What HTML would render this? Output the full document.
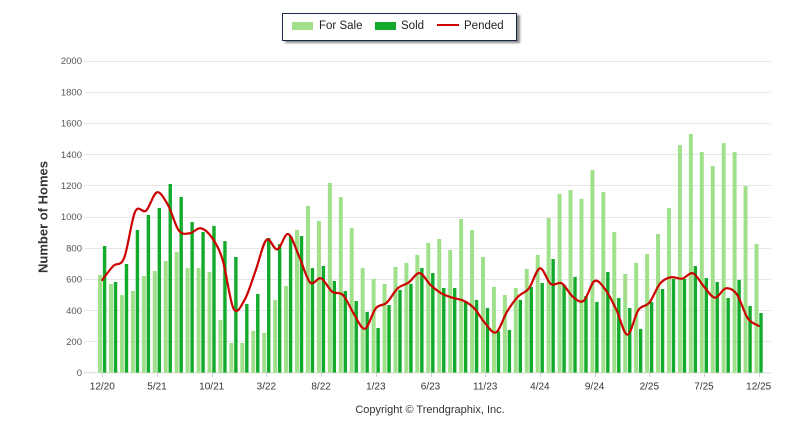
<!DOCTYPE html>
<html>
<head>
<meta charset="utf-8">
<style>
  html,body{margin:0;padding:0;background:#fff;}
  body{width:800px;height:434px;position:relative;overflow:hidden;font-family:"Liberation Sans",Arial,sans-serif;}
  #legend{position:absolute;left:282px;top:13px;width:233px;height:26px;border:1px solid #1b2a4a;background:#fff;box-shadow:3px 2px 2px #8a8a8a;}
  .sw{position:absolute;top:21.5px;height:8px;width:21px;}
  .lt{position:absolute;top:18.5px;font-size:11.5px;color:#222;line-height:14px;white-space:nowrap;}
  svg{position:absolute;left:0;top:0;}
</style>
</head>
<body>
<svg id="chart" width="800" height="434" viewBox="0 0 800 434" xmlns="http://www.w3.org/2000/svg">
  <g id="grid"></g>
  <g id="bars"></g>
  <path id="pend" fill="none" stroke="#cc0000" stroke-width="2.2" stroke-linejoin="round" stroke-linecap="round" d=""/>
  <g font-family="Liberation Sans, Arial, sans-serif" font-size="9.5" fill="#555" text-anchor="end">
    <text x="82" y="376">0</text>
    <text x="82" y="345">200</text>
    <text x="82" y="313.8">400</text>
    <text x="82" y="282.6">600</text>
    <text x="82" y="251.4">800</text>
    <text x="82" y="220.2">1000</text>
    <text x="82" y="189">1200</text>
    <text x="82" y="157.8">1400</text>
    <text x="82" y="126.6">1600</text>
    <text x="82" y="95.4">1800</text>
    <text x="82" y="64.2">2000</text>
  </g>
  <g font-family="Liberation Sans, Arial, sans-serif" font-size="10" fill="#333" text-anchor="middle">
    <text x="102.3" y="389.5">12/20</text>
    <text x="157" y="389.5">5/21</text>
    <text x="211.7" y="389.5">10/21</text>
    <text x="266.4" y="389.5">3/22</text>
    <text x="321.1" y="389.5">8/22</text>
    <text x="375.8" y="389.5">1/23</text>
    <text x="430.5" y="389.5">6/23</text>
    <text x="485.2" y="389.5">11/23</text>
    <text x="539.9" y="389.5">4/24</text>
    <text x="594.6" y="389.5">9/24</text>
    <text x="649.3" y="389.5">2/25</text>
    <text x="704" y="389.5">7/25</text>
    <text x="758.7" y="389.5">12/25</text>
  </g>
  <text x="44" y="217" transform="rotate(-90 44 217)" font-family="Liberation Sans, Arial, sans-serif" font-size="13" font-weight="bold" fill="#333" text-anchor="middle" dominant-baseline="middle">Number of Homes</text>
  <text x="430" y="413" font-family="Liberation Sans, Arial, sans-serif" font-size="11" fill="#333" text-anchor="middle">Copyright © Trendgraphix, Inc.</text>
</svg>

<div id="legend"></div>
<div class="sw" style="left:292px;background:#a1e08b;"></div>
<div class="lt" style="left:319px;">For Sale</div>
<div class="sw" style="left:375px;background:#12aa2a;"></div>
<div class="lt" style="left:401px;">Sold</div>
<div style="position:absolute;left:437px;top:23.5px;width:22px;height:2px;background:#cc0000;"></div>
<div class="lt" style="left:464px;">Pended</div>

<script>
(function(){
  var NS="http://www.w3.org/2000/svg";
  var forSale=[626,568,497,523,619,651,715,773,670,670,645,337,190,190,267,254,466,555,914,1068,972,1215,1125,927,670,600,568,677,703,754,831,856,786,984,914,741,549,497,542,664,754,991,1145,1170,1113,1298,1157,901,632,703,760,888,1055,1458,1529,1414,1324,1471,1414,1196,824];
  var sold=[811,581,696,914,1010,1055,1209,1125,965,901,940,843,741,440,504,863,824,875,875,670,683,587,523,459,389,286,433,530,568,670,638,542,542,459,466,414,265,273,466,549,574,728,562,613,491,453,645,478,414,280,453,536,600,600,683,606,581,478,594,427,382];
  var pended=[594,683,735,1031,1038,1155,1074,910,893,925,867,722,410,465,650,850,790,888,743,577,604,519,497,376,281,412,448,540,577,638,562,508,480,461,412,316,258,391,487,540,668,568,572,487,460,587,530,401,243,401,448,572,611,602,636,551,480,540,502,348,299];
  function Y(v){return 372.6 - v*0.15605;}
  function CX(i){return 102.3 + i*10.94;}
  var grid=document.getElementById("grid");
  for(var v=200; v<=2000; v+=200){
    var l=document.createElementNS(NS,"line");
    var y=Math.round(Y(v))+0.5;
    l.setAttribute("x1",84);l.setAttribute("x2",771);
    l.setAttribute("y1",y);l.setAttribute("y2",y);
    l.setAttribute("stroke","#e6e6e6");l.setAttribute("stroke-width","1");
    grid.appendChild(l);
  }
  var ax=document.createElementNS(NS,"line");
  ax.setAttribute("x1",84);ax.setAttribute("x2",771);ax.setAttribute("y1",372.8);ax.setAttribute("y2",372.8);
  ax.setAttribute("stroke","#d8d8d8");ax.setAttribute("stroke-width","1");
  grid.appendChild(ax);
  for(var k=0;k<=60;k+=5){
    var t=document.createElementNS(NS,"line");
    var x=Math.round(CX(k))+0.5;
    t.setAttribute("x1",x);t.setAttribute("x2",x);t.setAttribute("y1",373);t.setAttribute("y2",377);
    t.setAttribute("stroke","#d0d0d0");t.setAttribute("stroke-width","1");
    grid.appendChild(t);
  }
  var bars=document.getElementById("bars");
  for(var i=0;i<61;i++){
    var cx=CX(i);
    var r=document.createElementNS(NS,"rect");
    r.setAttribute("x",cx-4.2);r.setAttribute("width",4);
    r.setAttribute("y",Y(forSale[i]));r.setAttribute("height",372.6-Y(forSale[i]));
    r.setAttribute("fill","#a1e08b");
    bars.appendChild(r);
    var d=document.createElementNS(NS,"rect");
    d.setAttribute("x",cx+0.6);d.setAttribute("width",3.4);
    d.setAttribute("y",Y(sold[i]));d.setAttribute("height",372.6-Y(sold[i]));
    d.setAttribute("fill","#12aa2a");
    bars.appendChild(d);
  }
  var pts=pended.map(function(v,i){return [CX(i),Y(v)];});
  var s="M"+pts[0][0].toFixed(2)+","+pts[0][1].toFixed(2);
  for(var j=0;j<pts.length-1;j++){
    var p0=pts[j-1]||pts[j], p1=pts[j], p2=pts[j+1], p3=pts[j+2]||pts[j+1];
    var c1x=p1[0]+(p2[0]-p0[0])/6, c1y=p1[1]+(p2[1]-p0[1])/6;
    var c2x=p2[0]-(p3[0]-p1[0])/6, c2y=p2[1]-(p3[1]-p1[1])/6;
    s+=" C"+c1x.toFixed(2)+","+c1y.toFixed(2)+" "+c2x.toFixed(2)+","+c2y.toFixed(2)+" "+p2[0].toFixed(2)+","+p2[1].toFixed(2);
  }
  document.getElementById("pend").setAttribute("d",s);
})();
</script>
</body>
</html>
